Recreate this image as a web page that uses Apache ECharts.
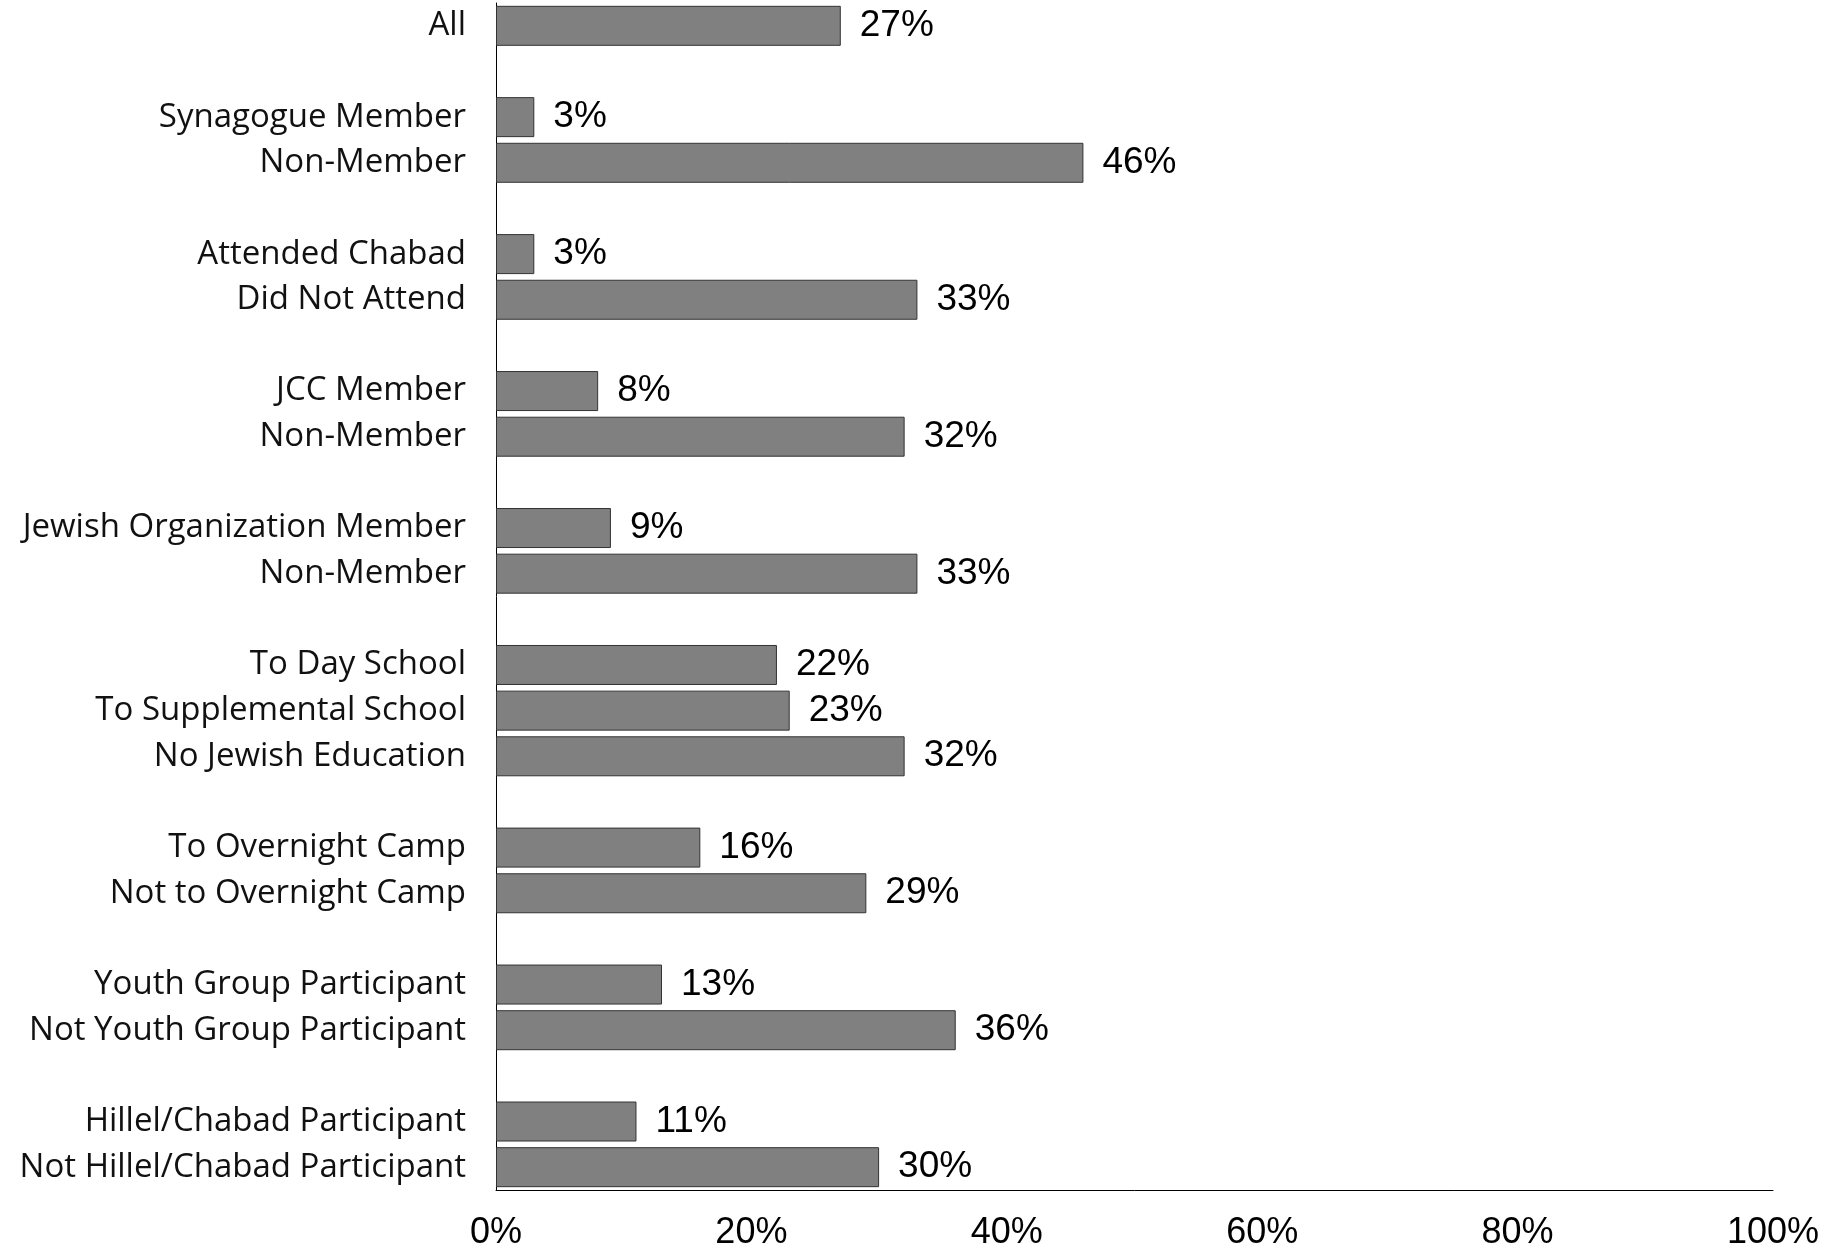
<!DOCTYPE html>
<html><head><meta charset="utf-8">
<script src="https://cdn.jsdelivr.net/npm/echarts@6/dist/echarts.min.js"></script>
<style>html,body{margin:0;padding:0;background:#fff;}#c{width:1844px;height:1251px;}</style>
</head><body><div id="c"></div>
<script>
const categories = ['All','','Synagogue Member','Non-Member','','Attended Chabad','Did Not Attend','','JCC Member','Non-Member','','Jewish Organization Member','Non-Member','','To Day School','To Supplemental School','No Jewish Education','','To Overnight Camp','Not to Overnight Camp','','Youth Group Participant','Not Youth Group Participant','','Hillel/Chabad Participant','Not Hillel/Chabad Participant'];
const values = [27,null,3,46,null,3,33,null,8,32,null,9,33,null,22,23,32,null,16,29,null,13,36,null,11,30];
const tickLabels = ['0%','20%','40%','60%','80%','100%'];

const chart = echarts.init(document.getElementById('c'));
chart.setOption({
  animation:false,
  grid:{left:496,right:71,top:3,bottom:58},
  xAxis:{type:'value',min:0,max:100,interval:20,
    axisLine:{show:true,lineStyle:{color:'#000',width:1}},
    axisTick:{show:false},splitLine:{show:false},
    axisLabel:{margin:25,fontFamily:'Liberation Sans',fontSize:36,color:'#000',
      formatter:(v)=>tickLabels[Math.round(v/20)]}},
  yAxis:{type:'category',inverse:true,data:categories.map((c,i)=>String(i)),
    axisLine:{show:true,lineStyle:{color:'#000',width:1}},
    axisTick:{show:false},
    axisLabel:{margin:30,fontFamily:'Open Sans',fontSize:33,color:'#111',interval:0,
      padding:[10,0,0,0],
      formatter:(v)=>categories[+v]}},
  series:[{type:'bar',data:values,barWidth:40,
    itemStyle:{color:'#808080',borderColor:'#333',borderWidth:1},
    label:{show:true,position:'right',distance:19,fontFamily:'Liberation Sans',fontSize:37,color:'#000',
      padding:[8,0,0,0],
      formatter:(p)=>p.value+'%'}}]
});
</script></body></html>
